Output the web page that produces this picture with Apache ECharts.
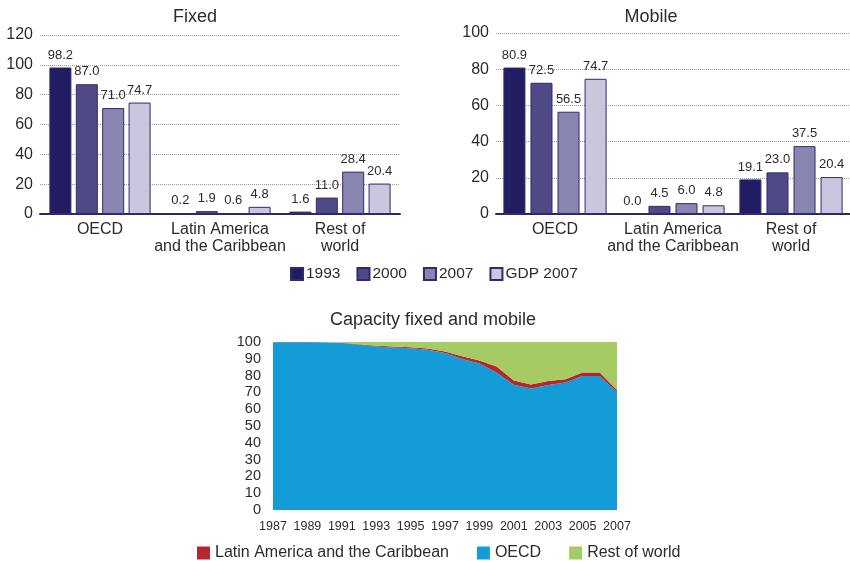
<!DOCTYPE html>
<html>
<head>
<meta charset="utf-8">
<script src="https://cdn.jsdelivr.net/npm/echarts@6/dist/echarts.min.js"></script>
<style>
html,body{margin:0;padding:0;background:#fff;}
#c{width:850px;height:561px;}
</style>
</head>
<body>
<div id="c"></div>
<script>
// ---- data ----
var regions = ['OECD', 'Latin America\nand the Caribbean', 'Rest of\nworld'];
var barNames = ['1993', '2000', '2007', 'GDP 2007'];

var fixed1993 = [98.2, 0.2, 1.6];
var fixed2000 = [87.0, 1.9, 11.0];
var fixed2007 = [71.0, 0.6, 28.4];
var fixedGdp2007 = [74.7, 4.8, 20.4];

var mobile1993 = [80.9, 0.0, 19.1];
var mobile2000 = [72.5, 4.5, 23.0];
var mobile2007 = [56.5, 6.0, 37.5];
var mobileGdp2007 = [74.7, 4.8, 20.4];

var fixedTicks = [0, 20, 40, 60, 80, 100, 120];
var mobileTicks = [0, 20, 40, 60, 80, 100];

var years = ['1987','1988','1989','1990','1991','1992','1993','1994','1995','1996','1997',
             '1998','1999','2000','2001','2002','2003','2004','2005','2006','2007'];
var capOECD  = [99.9, 99.9, 99.9, 99.8, 99.4, 98.4, 97.3, 96.8, 96.3, 95.4, 93.4,
                89.9, 87.2, 81.8, 74.5, 72.3, 74.4, 75.9, 79.8, 79.8, 70.3];
var capLatAm = [0.05, 0.05, 0.1, 0.1, 0.2, 0.3, 0.4, 0.5, 0.6, 0.8, 1.0,
                1.6, 1.8, 3.6, 2.6, 2.4, 2.4, 2.0, 2.0, 2.0, 1.2];
var capRest  = [0.05, 0.05, 0.0, 0.1, 0.4, 1.3, 2.3, 2.7, 3.1, 3.8, 5.6,
                8.5, 11.0, 14.6, 22.9, 25.3, 23.2, 22.1, 18.2, 18.2, 28.5];

// ---- styles ----
var FONT = '"Liberation Sans", Arial, Helvetica, sans-serif';
var TXT = '#2b2b2b';
var barColors = ['#221d62', '#4f4a85', '#8985b1', '#c9c7de'];
var barBorder = '#2e2a70';
var axisNavy = '#2b286c';

function barSeries(name, data, idx, axisIdx, gap) {
  return {
    type: 'bar', name: name, data: data,
    xAxisIndex: axisIdx, yAxisIndex: axisIdx,
    barWidth: 22, barGap: gap,
    itemStyle: { color: barColors[idx], borderColor: barBorder, borderWidth: 1 },
    label: { show: true, position: 'top', distance: 6,
      formatter: function (p) { return p.value.toFixed(1); },
      fontFamily: FONT, fontSize: 13, color: TXT }
  };
}

function catAxis(gi) {
  return {
    type: 'category', gridIndex: gi, data: regions,
    axisLine: { lineStyle: { color: axisNavy, width: 2 } },
    axisTick: { show: false },
    axisLabel: { interval: 0, fontFamily: FONT, fontSize: 16, color: TXT, margin: 7, lineHeight: 17 }
  };
}
function valAxis(gi, ticks) {
  return {
    type: 'value', gridIndex: gi, min: ticks[0], max: ticks[ticks.length - 1], interval: ticks[1] - ticks[0],
    axisLine: { show: false }, axisTick: { show: false },
    splitLine: { lineStyle: { type: 'dotted', color: '#9a9a9a', width: 1 } },
    axisLabel: { fontFamily: FONT, fontSize: 16, color: TXT, margin: 7 }
  };
}

var chart = echarts.init(document.getElementById('c'), null, { renderer: 'canvas' });
var option = {
  animation: false,
  backgroundColor: '#fff',
  title: [
    { text: 'Fixed', left: 195, top: 8, textAlign: 'center', padding: 0,
      textStyle: { fontFamily: FONT, fontSize: 18, fontWeight: 'normal', color: TXT } },
    { text: 'Mobile', left: 651, top: 8, textAlign: 'center', padding: 0,
      textStyle: { fontFamily: FONT, fontSize: 18, fontWeight: 'normal', color: TXT } },
    { text: 'Capacity fixed and mobile', left: 433, top: 311, textAlign: 'center', padding: 0,
      textStyle: { fontFamily: FONT, fontSize: 18, fontWeight: 'normal', color: TXT } }
  ],
  legend: [
    { data: barNames, left: 290, top: 266, padding: 0, itemWidth: 12, itemHeight: 12, itemGap: 16,
      icon: 'rect',
      textStyle: { fontFamily: FONT, fontSize: 15.5, color: TXT, padding: [0, 0, 0, -2] } },
    { data: ['Latin America and the Caribbean', 'OECD', 'Rest of world'], left: 197, top: 545, padding: 0,
      itemWidth: 13, itemHeight: 13, itemGap: 28, icon: 'rect',
      textStyle: { fontFamily: FONT, fontSize: 16, color: TXT } }
  ],
  grid: [
    { left: 40, top: 35, width: 360, height: 179 },
    { left: 496, top: 33, width: 354, height: 181 },
    { left: 273, top: 342, width: 344, height: 168 }
  ],
  xAxis: [
    catAxis(0), catAxis(1),
    { type: 'category', gridIndex: 2, data: years, boundaryGap: false,
      axisLine: { show: false }, axisTick: { show: false },
      axisLabel: { interval: 1, fontFamily: FONT, fontSize: 12.5, color: TXT, margin: 10 } }
  ],
  yAxis: [
    valAxis(0, fixedTicks), valAxis(1, mobileTicks),
    { type: 'value', gridIndex: 2, min: 0, max: 100, interval: 10,
      axisLine: { show: false }, axisTick: { show: false }, splitLine: { show: false },
      axisLabel: { fontFamily: FONT, fontSize: 14.5, color: TXT, margin: 12 } }
  ],
  series: [
    barSeries('1993', fixed1993, 0, 0, '20%'),
    barSeries('2000', fixed2000, 1, 0, '20%'),
    barSeries('2007', fixed2007, 2, 0, '20%'),
    barSeries('GDP 2007', fixedGdp2007, 3, 0, '20%'),
    barSeries('1993', mobile1993, 0, 1, '23%'),
    barSeries('2000', mobile2000, 1, 1, '23%'),
    barSeries('2007', mobile2007, 2, 1, '23%'),
    barSeries('GDP 2007', mobileGdp2007, 3, 1, '23%'),
    { type: 'line', name: 'OECD', data: capOECD, xAxisIndex: 2, yAxisIndex: 2, stack: 'cap',
      symbol: 'none', color: '#139cd8', lineStyle: { width: 0 }, areaStyle: { color: '#139cd8', opacity: 1 } },
    { type: 'line', name: 'Latin America and the Caribbean', data: capLatAm, xAxisIndex: 2, yAxisIndex: 2, stack: 'cap',
      symbol: 'none', color: '#b6262f', lineStyle: { width: 0 }, areaStyle: { color: '#b6262f', opacity: 1 } },
    { type: 'line', name: 'Rest of world', data: capRest, xAxisIndex: 2, yAxisIndex: 2, stack: 'cap',
      symbol: 'none', color: '#a6cb64', lineStyle: { width: 0 }, areaStyle: { color: '#a6cb64', opacity: 1 } }
  ]
};
chart.setOption(option);
</script>
</body>
</html>
